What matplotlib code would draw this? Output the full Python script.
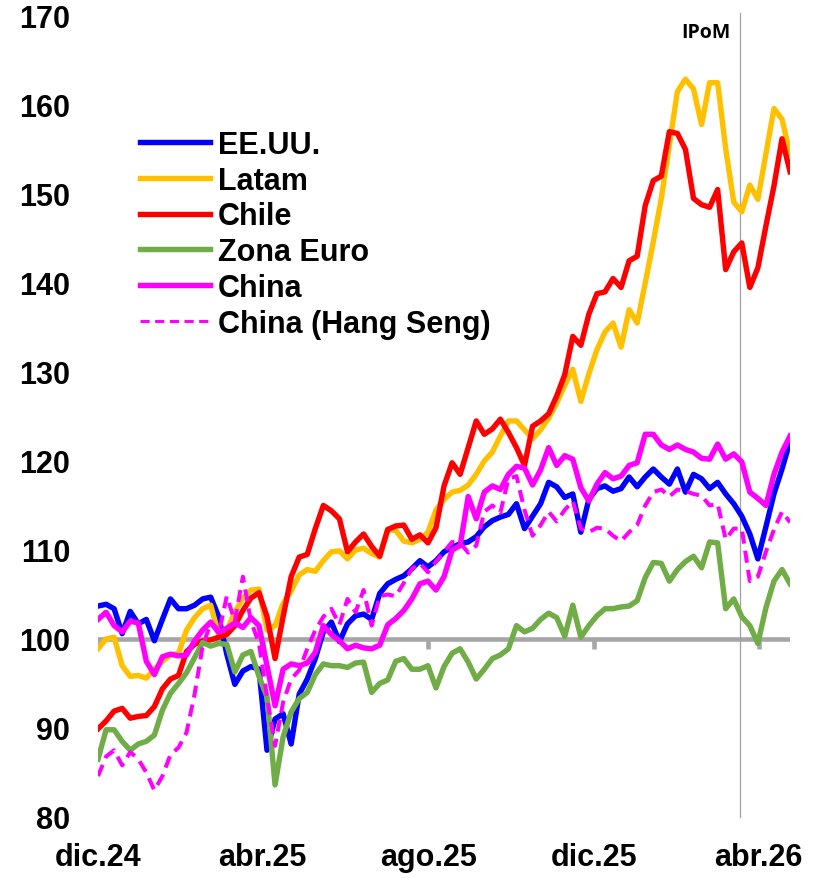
import numpy as np
import pandas as pd
import matplotlib
matplotlib.use("Agg")
import matplotlib.pyplot as plt

# fechas (muestras aprox. cada 6 dias, dic.24 -> fines de abr.26)
dates = pd.date_range("2024-12-01", "2026-04-24", periods=87)

eeuu = [103.7, 103.9, 103.4, 100.6, 103.1, 101.7, 102.2, 99.8, 102.2, 104.5,
        103.4, 103.4, 103.8, 104.5, 104.7, 102.5, 98.3, 94.9, 96.4, 96.9,
        96.6, 87.5, 91.0, 91.6, 88.2, 93.8, 95.5, 97.8, 100.8, 101.9,
        99.7, 101.7, 102.6, 102.8, 102.2, 105.1, 106.2, 106.7, 107.1, 107.9,
        108.8, 108.1, 108.8, 109.8, 110.3, 110.7, 110.9, 111.5, 112.6, 113.3,
        113.7, 114.0, 115.2, 112.4, 113.8, 115.2, 117.6, 117.1, 115.9, 116.3,
        112.0, 115.7, 116.9, 117.2, 116.6, 116.9, 118.2, 117.1, 118.2, 119.1,
        118.2, 117.4, 119.1, 116.5, 118.5, 118.0, 116.9, 117.6, 116.3, 115.2,
        113.8, 111.8, 109.0, 112.6, 116.3, 119.1, 122.2]

latam = [98.9, 100.0, 100.2, 97.0, 95.8, 95.9, 95.6, 96.6, 97.5, 98.2,
         98.4, 101.0, 102.4, 103.4, 103.8, 100.5, 101.0, 103.0, 104.6, 105.5,
         105.6, 101.0, 101.5, 104.0, 105.4, 107.2, 107.8, 107.6, 108.8, 109.8,
         109.9, 109.0, 110.0, 110.2, 109.6, 109.2, 112.3, 112.2, 111.0, 110.8,
         111.2, 112.0, 114.5, 115.7, 116.5, 116.7, 117.3, 118.5, 120.0, 121.0,
         122.8, 124.5, 124.5, 123.5, 122.5, 123.5, 124.8, 126.5, 128.5, 130.3,
         126.7, 129.8, 132.5, 134.5, 135.5, 132.8, 137.0, 135.5, 140.0, 144.6,
         149.5, 155.5, 161.5, 162.9, 161.8, 157.8, 162.5, 162.5, 155.1, 149.1,
         148.0, 151.0, 149.4, 154.5, 159.6, 158.4, 154.5]

chile = [89.9, 90.8, 91.9, 92.2, 91.1, 91.3, 91.4, 92.4, 94.4, 95.5,
         95.9, 98.6, 99.4, 99.8, 99.9, 100.2, 100.5, 101.5, 103.2, 104.6,
         105.2, 102.5, 97.8, 102.5, 107.0, 109.2, 109.5, 112.4, 115.0, 114.4,
         113.5, 109.8, 110.9, 111.8, 110.4, 109.3, 112.3, 112.7, 112.8, 111.2,
         111.7, 110.8, 112.5, 117.2, 119.8, 118.5, 121.5, 124.5, 123.0, 123.6,
         124.7, 123.2, 121.5, 119.5, 123.9, 124.5, 125.3, 127.3, 129.7, 134.0,
         133.0, 136.5, 138.8, 139.0, 140.5, 139.5, 142.5, 143.0, 148.7, 151.5,
         152.0, 157.0, 156.8, 155.0, 149.5, 148.8, 148.5, 150.5, 141.5, 143.5,
         144.5, 139.5, 141.7, 146.4, 150.9, 156.2, 152.5]

zona_euro = [86.5, 89.8, 89.8, 88.5, 87.5, 88.2, 88.5, 89.2, 92.0, 93.9,
             95.0, 96.2, 97.9, 99.6, 99.2, 99.5, 99.4, 96.3, 98.2, 98.6,
             95.8, 93.5, 83.6, 89.0, 91.8, 93.3, 94.0, 96.0, 97.2, 97.0,
             97.0, 96.8, 97.3, 97.4, 94.0, 95.0, 95.4, 97.5, 97.8, 96.6,
             96.6, 97.0, 94.5, 96.9, 98.4, 98.9, 97.4, 95.5, 96.6, 97.8,
             98.2, 98.9, 101.5, 100.8, 101.2, 102.2, 102.9, 102.4, 100.3, 103.8,
             100.2, 101.5, 102.6, 103.4, 103.4, 103.6, 103.7, 104.3, 106.9, 108.6,
             108.5, 106.5, 107.8, 108.7, 109.3, 108.0, 110.9, 110.8, 103.4, 104.5,
             102.5, 101.5, 99.5, 103.5, 106.5, 107.8, 106.2]

china = [102.2, 103.0, 101.5, 100.8, 102.0, 101.8, 97.5, 96.0, 98.0, 98.3,
         98.1, 98.2, 99.8, 101.0, 101.9, 100.8, 101.2, 101.8, 101.3, 102.4,
         101.5, 97.0, 92.5, 96.6, 97.2, 97.0, 97.3, 98.5, 101.5, 100.5,
         99.8, 98.9, 99.3, 99.0, 98.9, 99.3, 101.6, 102.3, 103.2, 104.5,
         106.2, 106.5, 105.5, 107.0, 110.0, 110.5, 116.0, 113.5, 116.5, 117.2,
         116.8, 118.5, 119.4, 119.2, 117.3, 119.0, 121.5, 119.5, 120.6, 120.2,
         117.0, 115.5, 117.4, 118.7, 118.0, 118.3, 119.5, 119.8, 123.0, 123.0,
         121.8, 121.3, 121.8, 121.3, 121.0, 120.3, 120.2, 121.9, 120.2, 120.8,
         119.9, 116.5, 115.8, 115.0, 118.5, 121.0, 122.8]

hang_seng = [84.6, 86.8, 87.5, 85.8, 87.3, 86.5, 85.0, 83.0, 84.6, 87.0,
             87.8, 89.5, 93.8, 99.2, 101.8, 100.6, 104.8, 102.0, 107.0, 102.0,
             99.5, 93.5, 88.0, 92.9, 95.5, 96.5, 98.9, 101.0, 102.5, 103.4,
             101.6, 104.5, 103.0, 105.5, 101.5, 104.8, 105.0, 104.8, 106.3, 107.9,
             108.5, 107.5, 108.7, 109.8, 110.9, 110.8, 109.7, 110.5, 114.3, 115.0,
             114.2, 118.0, 118.3, 114.5, 111.6, 112.8, 114.3, 113.2, 114.5, 115.5,
             112.4, 112.0, 112.5, 112.4, 111.6, 111.0, 112.0, 112.8, 115.0, 116.5,
             116.8, 116.0, 116.8, 116.6, 116.3, 116.1, 115.0, 115.2, 111.2, 112.4,
             112.4, 106.5, 107.0, 109.8, 112.3, 114.3, 113.1]

tick_dates = pd.to_datetime(["2024-12-01", "2025-04-01", "2025-08-01",
                             "2025-12-01", "2026-04-01"])
tick_labels = ["dic.24", "abr.25", "ago.25", "dic.25", "abr.26"]
ipom_date = pd.Timestamp("2026-03-18")

font = "Liberation Sans"

fig = plt.figure(figsize=(8.21, 8.79), dpi=100)
ax = fig.add_axes([0.1194, 0.0694, 0.8429, 0.9113])

# linea base 100 y marcas
ax.axhline(100, color="#A6A6A6", lw=3.3, zorder=1)
ax.vlines(tick_dates, 98.9, 100, color="#A6A6A6", lw=3.3, zorder=1)
ax.axvline(ipom_date, ymin=0, ymax=1.004, color="#A0A0A0", lw=0.9,
           zorder=1.5, clip_on=False)

lw = 3.9
ax.plot(dates, eeuu, color="#0000FF", lw=lw, label="EE.UU.", zorder=3)
ax.plot(dates, latam, color="#FFC000", lw=lw, label="Latam", zorder=4)
ax.plot(dates, chile, color="#FF0000", lw=lw, label="Chile", zorder=5)
ax.plot(dates, zona_euro, color="#70AD47", lw=lw, label="Zona Euro", zorder=6)
ax.plot(dates, china, color="#FF00FF", lw=lw, label="China", zorder=7)
ax.plot(dates, hang_seng, color="#FF00FF", lw=2.9, ls=(0, (3, 1.8)),
        label="China (Hang Seng)", zorder=8)

ax.annotate("IPoM", xy=(ipom_date, 168.2), xytext=(-7, 0),
            textcoords="offset points", ha="right", va="center",
            fontsize=14, fontweight="bold", family="Open Sans")

ax.set_ylim(80, 170)
ax.set_xlim(pd.Timestamp("2024-12-01"), pd.Timestamp("2026-04-24"))
ax.set_yticks(np.arange(80, 171, 10))
ax.set_xticks(tick_dates)
ax.set_xticklabels(tick_labels)
ax.tick_params(axis="both", length=0)
ax.tick_params(axis="y", pad=20)
ax.tick_params(axis="x", pad=18)
for lab in ax.get_xticklabels() + ax.get_yticklabels():
    lab.set_fontfamily(font)
    lab.set_fontweight("bold")
    lab.set_fontsize(22)

for s in ax.spines.values():
    s.set_visible(False)

leg = ax.legend(loc="upper left", bbox_to_anchor=(0.0607, 0.858), frameon=False,
                prop={"family": font, "weight": "bold", "size": 22},
                handlelength=2.3, handletextpad=0.25, labelspacing=0.19,
                borderpad=0, borderaxespad=0)
leg.get_lines()[-1].set_linewidth(2.2)

fig.savefig("out.png", dpi=100)
